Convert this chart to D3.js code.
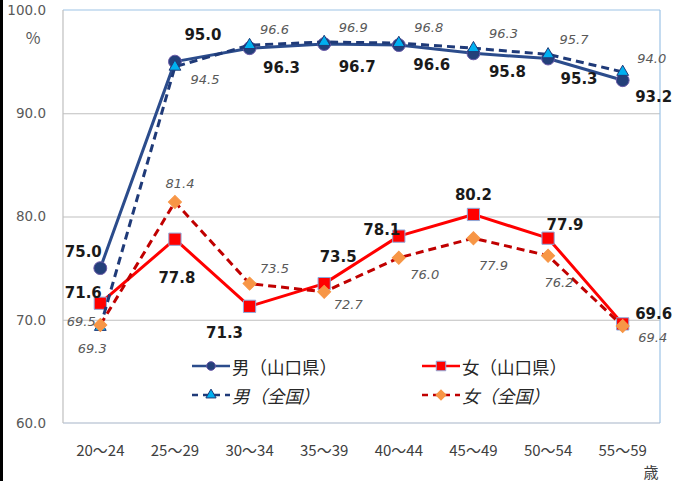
<!DOCTYPE html>
<html>
<head>
<meta charset="utf-8">
<script src="https://cdn.jsdelivr.net/npm/d3@7"></script>
<style>
  html, body { margin: 0; padding: 0; background: #fff; }
  svg { display: block; }
</style>
</head>
<body>
<svg id="chart" width="673" height="481"></svg>
<script>
// Age groups and employment rates (%)
const ageGroups = ["20〜24", "25〜29", "30〜34", "35〜39", "40〜44", "45〜49", "50〜54", "55〜59"];
const maleYamaguchi   = [75.0, 95.0, 96.3, 96.7, 96.6, 95.8, 95.3, 93.2];
const femaleYamaguchi = [71.6, 77.8, 71.3, 73.5, 78.1, 80.2, 77.9, 69.6];
const maleNational    = [69.3, 94.5, 96.6, 96.9, 96.8, 96.3, 95.7, 94.0];
const femaleNational  = [69.5, 81.4, 73.5, 72.7, 76.0, 77.9, 76.2, 69.4];
const yTicks = [60, 70, 80, 90, 100];
const seriesNames = ["男（山口県）", "女（山口県）", "男（全国）", "女（全国）"];

// Value label placement relative to each point [dx, dy]
const labelOffsets = [
  [[-17,-16],[28,-27],[32,20],[33,23],[33,20],[34,19],[31,20],[31,17]],
  [[-17,-10],[2,39],[-25,27],[14,-27],[-17,-6],[0,-19],[17,-13],[31,-10]],
  [[-8,22],[30,13],[25,-16],[29,-15],[30,-16],[30,-15],[26,-15],[29,-13]],
  [[-19,-3],[5,-19],[25,-15],[24,13],[26,17],[20,27],[11,27],[30,12]]
];

const series = [
  { name: seriesNames[0], values: maleYamaguchi, stroke: "#2B4C8C", dash: null, marker: "circle",
    fill: "#24407A", mstroke: "#6A5AA8", msize: 130, lsize: 60, labelStyle: "bold" },
  { name: seriesNames[1], values: femaleYamaguchi, stroke: "#FF0000", dash: null, marker: "square",
    fill: "#FF0000", mstroke: "#8EA9DB", msize: 150, lsize: 90, labelStyle: "bold" },
  { name: seriesNames[2], values: maleNational, stroke: "#1F3A78", dash: "8,5", marker: "triangle",
    fill: "#00B0F0", mstroke: "#1F3A78", msize: 60, lsize: 45, labelStyle: "italic" },
  { name: seriesNames[3], values: femaleNational, stroke: "#C00000", dash: "8,5", marker: "diamond",
    fill: "#F79646", mstroke: "#F79646", msize: 85, lsize: 50, labelStyle: "italic" }
];

const svg = d3.select("#chart");
const W = 673, H = 481;
const plot = { left: 63, right: 660, top: 10, bottom: 423 };

// left edge strip
svg.append("rect").attr("x", 0).attr("y", 0).attr("width", 3).attr("height", H).attr("fill", "#000");

const x = d3.scaleBand().domain(ageGroups).range([plot.left, plot.right]);
const cx = d => x(d) + x.bandwidth() / 2;
const y = d3.scaleLinear().domain([60, 100]).range([plot.bottom, plot.top]);

// gridlines
svg.append("g")
  .attr("transform", `translate(${plot.left},0)`)
  .call(d3.axisLeft(y).tickValues([70, 80, 90]).tickSize(-(plot.right - plot.left)).tickFormat(""))
  .call(g => g.select(".domain").remove())
  .call(g => g.selectAll("line").attr("stroke", "#BFBFBF").attr("stroke-width", 1.2));

// plot frame
svg.append("line").attr("x1", plot.left).attr("x2", plot.right).attr("y1", plot.top).attr("y2", plot.top)
  .attr("stroke", "#9DC3E6").attr("stroke-width", 1.2);
svg.append("line").attr("x1", plot.right).attr("x2", plot.right).attr("y1", plot.top).attr("y2", plot.bottom)
  .attr("stroke", "#9DC3E6").attr("stroke-width", 1.2);
svg.append("line").attr("x1", plot.left).attr("x2", plot.right).attr("y1", plot.bottom).attr("y2", plot.bottom)
  .attr("stroke", "#A6B4C8").attr("stroke-width", 1.2);
svg.append("line").attr("x1", plot.left).attr("x2", plot.left).attr("y1", plot.top).attr("y2", plot.bottom)
  .attr("stroke", "#BFBFBF").attr("stroke-width", 1.2);

// y axis
svg.append("g")
  .attr("transform", `translate(${plot.left},0)`)
  .call(d3.axisLeft(y).tickValues(yTicks).tickSize(0).tickPadding(17).tickFormat(d3.format(".1f")))
  .call(g => g.select(".domain").remove())
  .call(g => g.selectAll("text").attr("fill", "#595959")
    .style("font-family", "'DejaVu Sans', sans-serif").style("font-size", "13.5px"));

// x axis
svg.append("g")
  .attr("transform", `translate(0,${plot.bottom})`)
  .call(d3.axisBottom(x).tickSize(0).tickPadding(22))
  .call(g => g.select(".domain").remove())
  .call(g => g.selectAll("text").attr("fill", "#404040")
    .style("font-family", "'Noto Sans CJK JP', sans-serif").style("font-size", "15px"));

// unit labels
svg.append("text").attr("x", 33).attr("y", 37).attr("text-anchor", "middle").attr("dominant-baseline", "central")
  .attr("fill", "#595959").style("font-family", "'Noto Sans CJK JP', sans-serif").style("font-size", "16px").text("%");
svg.append("text").attr("x", 651).attr("y", 471).attr("text-anchor", "middle").attr("dominant-baseline", "central")
  .attr("fill", "#404040").style("font-family", "'Noto Sans CJK JP', sans-serif").style("font-size", "15px").text("歳");

// diamonds are drawn as squares turned 45°
const symbolType = { circle: d3.symbolCircle, square: d3.symbolSquare, triangle: d3.symbolTriangle, diamond: d3.symbolSquare };
const markerTurn = m => (m === "diamond" ? " rotate(45)" : "");

const line = d3.line().x((d, i) => cx(ageGroups[i])).y(d => y(d));

series.forEach(s => {
  const g = svg.append("g");
  g.append("path").datum(s.values).attr("d", line)
    .attr("fill", "none").attr("stroke", s.stroke).attr("stroke-width", 3)
    .attr("stroke-dasharray", s.dash).attr("stroke-linejoin", "round");
  const sym = d3.symbol().type(symbolType[s.marker]).size(s.msize);
  g.selectAll("path.m").data(s.values).join("path").attr("class", "m")
    .attr("d", sym)
    .attr("transform", (d, i) => `translate(${cx(ageGroups[i])},${y(d)})${markerTurn(s.marker)}`)
    .attr("fill", s.fill).attr("stroke", s.mstroke).attr("stroke-width", 1);
});

// value labels
series.forEach((s, si) => {
  svg.append("g").selectAll("text").data(s.values).join("text")
    .attr("x", (d, i) => cx(ageGroups[i]) + labelOffsets[si][i][0])
    .attr("y", (d, i) => y(d) + labelOffsets[si][i][1])
    .attr("text-anchor", "middle").attr("dominant-baseline", "central")
    .attr("fill", s.labelStyle === "bold" ? "#1A1A1A" : "#595959")
    .style("font-family", "'DejaVu Sans', sans-serif")
    .style("font-size", s.labelStyle === "bold" ? "15px" : "13px")
    .style("font-weight", s.labelStyle === "bold" ? "bold" : "normal")
    .style("font-style", s.labelStyle === "bold" ? "normal" : "italic")
    .text(d => d3.format(".1f")(d));
});

// legend (two columns, two rows)
const legendCols = [192, 422];
const legendRows = [366, 395];
series.forEach((s, i) => {
  const lx = legendCols[i % 2], ly = legendRows[Math.floor(i / 2)];
  const g = svg.append("g").attr("transform", `translate(${lx},${ly})`);
  g.append("line").attr("x1", 0).attr("x2", 38).attr("y1", 0).attr("y2", 0)
    .attr("stroke", s.stroke).attr("stroke-width", 2.5).attr("stroke-dasharray", s.dash ? "6,5" : null);
  g.append("path").attr("d", d3.symbol().type(symbolType[s.marker]).size(s.lsize))
    .attr("transform", `translate(19,0)${markerTurn(s.marker)}`)
    .attr("fill", s.fill).attr("stroke", s.mstroke).attr("stroke-width", 1);
  g.append("text").attr("x", 40).attr("y", 0).attr("dominant-baseline", "central")
    .attr("fill", "#262626")
    .style("font-family", "'Noto Sans CJK JP', sans-serif").style("font-size", "17.5px")
    .style("font-style", i >= 2 ? "italic" : "normal")
    .text(s.name);
});
</script>
</body>
</html>
